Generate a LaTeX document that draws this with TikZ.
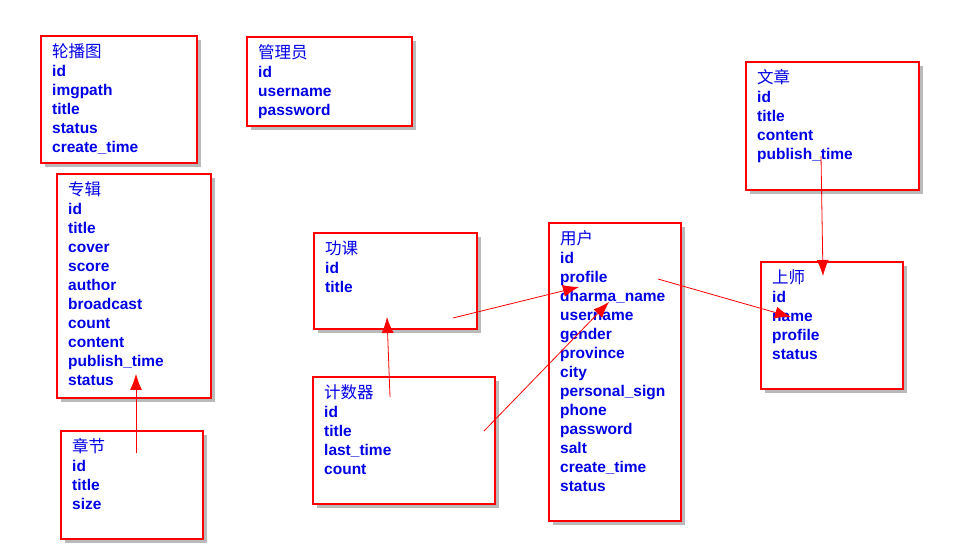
\documentclass[tikz,border=0pt]{standalone}
\usepackage{fontspec}
\setmainfont{Liberation Sans}
\newfontfamily\cjk{Noto Sans CJK SC}
\usetikzlibrary{arrows.meta,shadows}
\definecolor{fieldblue}{RGB}{0,0,230}
\newcommand{\tabletitle}[1]{\rule{0pt}{15pt}{\cjk\mdseries\fontsize{16.5}{19}\selectfont #1}}

\begin{document}
\begin{tikzpicture}[x=1pt,y=-1pt,>={Latex[length=16pt,width=12pt]},
    table/.style={draw=red,line width=1.2pt,fill=white,inner sep=0pt,outer sep=0pt,anchor=north west,
        drop shadow={shadow xshift=4pt,shadow yshift=-4pt,opacity=0.45,fill=black!60}},
    fields/.style={anchor=north west,inner sep=0pt,align=left,text=fieldblue,font=\fontsize{15.5}{19}\selectfont\bfseries}]
                \fill[white] (0,0) rectangle (975,553);

                \node[table,minimum width=156pt,minimum height=127pt] (1) at (41,36) {};
                \node[fields] (1t) at ([shift={(11,6)}]1.north west) {\tabletitle{轮播图}\\id\\imgpath\\title\\status\\create\_time};
                \node[table,minimum width=165pt,minimum height=89pt] (2) at (247,37) {};
                \node[fields] (2t) at ([shift={(11,6)}]2.north west) {\tabletitle{管理员}\\id\\username\\password};
                \node[table,minimum width=154pt,minimum height=224pt] (3) at (57,174) {};
                \node[fields] (3t) at ([shift={(11,6)}]3.north west) {\tabletitle{专辑}\\id\\title\\cover\\score\\author\\broadcast\\count\\content\\publish\_time\\status};
                \node[table,minimum width=142pt,minimum height=108pt] (4) at (61,431) {};
                \node[fields] (4t) at ([shift={(11,6)}]4.north west) {\tabletitle{章节}\\id\\title\\size};
                \node[table,minimum width=163pt,minimum height=96pt] (5) at (314,233) {};
                \node[fields] (5t) at ([shift={(11,6)}]5.north west) {\tabletitle{功课}\\id\\title};
                \node[table,minimum width=182pt,minimum height=127pt] (6) at (313,377) {};
                \node[fields] (6t) at ([shift={(11,6)}]6.north west) {\tabletitle{计数器}\\id\\title\\last\_time\\count};
                \node[table,minimum width=132pt,minimum height=298pt] (7) at (549,223) {};
                \node[fields] (7t) at ([shift={(11,6)}]7.north west) {\tabletitle{用户}\\id\\profile\\dharma\_name\\username\\gender\\province\\city\\personal\_sign\\phone\\password\\salt\\create\_time\\status};
                \node[table,minimum width=173pt,minimum height=128pt] (8) at (746,62) {};
                \node[fields] (8t) at ([shift={(11,6)}]8.north west) {\tabletitle{文章}\\id\\title\\content\\publish\_time};
                \node[table,minimum width=142pt,minimum height=127pt] (9) at (761,262) {};
                \node[fields] (9t) at ([shift={(11,6)}]9.north west) {\tabletitle{上师}\\id\\name\\profile\\status};

                \coordinate (4a) at ([shift={(75,22)}]4.north west);
                \coordinate (3b) at ([shift={(79,200)}]3.north west);
                \coordinate (6a) at ([shift={(77,20)}]6.north west);
                \coordinate (5b) at ([shift={(73,84)}]5.north west);
                \coordinate (5a) at ([shift={(139,85)}]5.north west);
                \coordinate (7b) at ([shift={(30,64)}]7.north west);
                \coordinate (6c) at ([shift={(171,54)}]6.north west);
                \coordinate (7c) at ([shift={(60,79)}]7.north west);
                \coordinate (7a) at ([shift={(109,56)}]7.north west);
                \coordinate (9b) at ([shift={(30,55)}]9.north west);
                \coordinate (8a) at ([shift={(75,94)}]8.north west);
                \coordinate (9c) at ([shift={(62,14)}]9.north west);

                \path[->,color=red,line width=0.8pt]
                    (4a) edge (3b)
                    (6a) edge (5b)
                    (5a) edge (7b)
                    (6c) edge (7c)
                    (7a) edge (9b)
                    (8a) edge (9c)
                    ;
\end{tikzpicture}
\end{document}
